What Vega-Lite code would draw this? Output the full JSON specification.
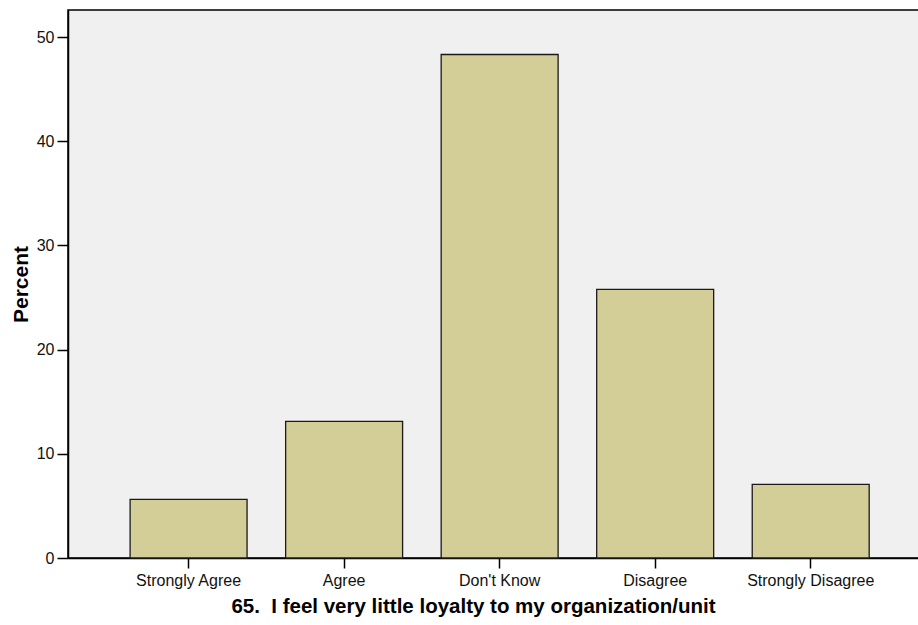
{
  "$schema": "https://vega.github.io/schema/vega-lite/v6.json",
  "width": 852,
  "height": 548,
  "autosize": {"type": "none"},
  "padding": {"left": 68, "top": 10, "right": 0, "bottom": 67},
  "background": "white",
  "view": {"fill": "#f0f0f0", "stroke": "#000000", "strokeWidth": 1.5},
  "data": {
    "values": [
      {"response": "Strongly Agree", "percent": 5.62},
      {"response": "Agree", "percent": 13.11},
      {"response": "Don't Know", "percent": 48.33},
      {"response": "Disagree", "percent": 25.78},
      {"response": "Strongly Disagree", "percent": 7.06}
    ]
  },
  "mark": {"type": "bar", "fill": "#d3ce97", "stroke": "#1a1a1a", "strokeWidth": 1.3},
  "encoding": {
    "x": {
      "field": "response",
      "type": "nominal",
      "sort": null,
      "scale": {"paddingInner": 0.248, "paddingOuter": 0.363, "align": 0.55},
      "axis": {
        "title": "65.\u00a0 I feel very little loyalty to my organization/unit",
        "titleFont": "Liberation Sans",
        "titleFontSize": 20.5,
        "titleFontWeight": "bold",
        "titleColor": "#000000",
        "titleX": 405,
        "titlePadding": 8,
        "labelAngle": 0,
        "labelFont": "Liberation Sans",
        "labelFontSize": 16,
        "labelColor": "#111111",
        "labelPadding": 4,
        "tickSize": 10,
        "tickWidth": 1.5,
        "tickColor": "#000000",
        "domainColor": "#000000",
        "domainWidth": 1.5,
        "grid": false
      }
    },
    "y": {
      "field": "percent",
      "type": "quantitative",
      "scale": {"domain": [0, 52.6], "nice": false, "zero": true},
      "axis": {
        "title": "Percent",
        "titleFont": "Liberation Sans",
        "titleFontSize": 21,
        "titleFontWeight": "bold",
        "titleColor": "#000000",
        "titlePadding": 5,
        "values": [0, 10, 20, 30, 40, 50],
        "labelFont": "Liberation Sans",
        "labelFontSize": 16,
        "labelColor": "#111111",
        "labelPadding": 3,
        "tickSize": 11,
        "tickWidth": 1.5,
        "tickColor": "#000000",
        "domainColor": "#000000",
        "domainWidth": 1.5,
        "grid": false
      }
    }
  }
}
